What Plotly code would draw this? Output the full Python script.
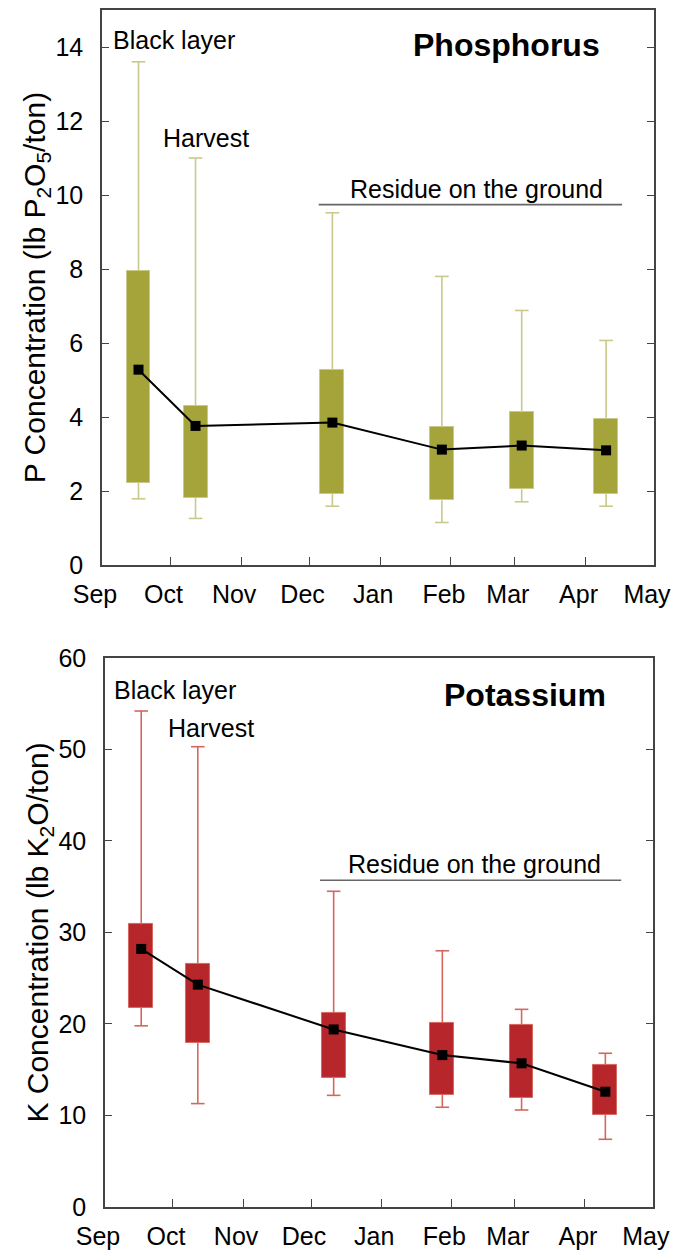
import pandas as pd
import plotly.graph_objects as go
from plotly.subplots import make_subplots

# ---- data ----
sample_dates = ["2014-09-17", "2014-10-12", "2014-12-11", "2015-01-28", "2015-03-04", "2015-04-10"]

p_min = [1.79, 1.26, 1.59, 1.15, 1.71, 1.59]
p_q1 = [2.23, 1.82, 1.93, 1.75, 2.05, 1.93]
p_mean = [5.28, 3.76, 3.85, 3.12, 3.23, 3.10]
p_q3 = [7.95, 4.31, 5.27, 3.73, 4.13, 3.96]
p_max = [13.6, 11.0, 9.52, 7.8, 6.88, 6.07]

k_min = [19.8, 11.3, 12.2, 10.9, 10.6, 7.4]
k_q1 = [21.8, 17.96, 14.1, 12.3, 11.9, 10.1]
k_mean = [28.2, 24.3, 19.4, 16.6, 15.7, 12.6]
k_q3 = [30.9, 26.6, 21.2, 20.1, 19.9, 15.5]
k_max = [54.2, 50.3, 34.5, 28.0, 21.6, 16.8]

month_ticks = ["2014-09-01", "2014-10-01", "2014-11-01", "2014-12-01", "2015-01-01",
               "2015-02-01", "2015-03-01", "2015-04-01", "2015-05-01"]
month_labels = ["Sep", "Oct", "Nov", "Dec", "Jan", "Feb", "Mar", "Apr", "May"]

residue_start = "2014-12-05"
residue_end = "2015-04-17"
residue_level_p = 9.74
residue_level_k = 35.7

FONT = "Liberation Sans, Arial, Helvetica, sans-serif"
FS = 25

dates = pd.to_datetime(sample_dates)
cap = pd.Timedelta(days=3)
box_w_ms = pd.Timedelta(days=10.5).total_seconds() * 1000

fig = make_subplots(rows=2, cols=1)


def add_panel(row, vmin, q1, mean, q3, vmax, box_col, whisk_col):
    wx, wy = [], []
    for d, lo, a, b, hi in zip(dates, vmin, q1, q3, vmax):
        wx += [d, d, None, d, d, None, d - cap, d + cap, None, d - cap, d + cap, None]
        wy += [b, hi, None, lo, a, None, hi, hi, None, lo, lo, None]
    fig.add_trace(go.Scatter(x=wx, y=wy, mode="lines", line=dict(color=whisk_col, width=1.6),
                             hoverinfo="skip", showlegend=False), row=row, col=1)
    fig.add_trace(go.Bar(x=dates, y=[b - a for a, b in zip(q1, q3)], base=q1,
                         width=[box_w_ms] * len(dates),
                         marker=dict(color=box_col, line=dict(color=whisk_col, width=1)),
                         showlegend=False), row=row, col=1)
    fig.add_trace(go.Scatter(x=dates, y=mean, mode="lines+markers",
                             line=dict(color="black", width=2),
                             marker=dict(symbol="square", size=10, color="black"),
                             showlegend=False), row=row, col=1)


add_panel(1, p_min, p_q1, p_mean, p_q3, p_max, "#a4a43a", "#c9c98c")
add_panel(2, k_min, k_q1, k_mean, k_q3, k_max, "#b7262b", "#d4685e")

axis_common = dict(showline=True, linecolor="#444444", linewidth=1.5, showgrid=False,
                   zeroline=False, ticks="inside", tickcolor="#444444", automargin=False,
                   tickfont=dict(family=FONT, size=FS, color="black"))

fig.update_xaxes(type="date", range=[month_ticks[0], month_ticks[-1]],
                 tickvals=month_ticks, ticktext=month_labels, ticklen=8,
                 ticklabelstandoff=6, ticklabelshift=-7,
                 mirror=True, **axis_common)
fig.update_xaxes(domain=[0.0, 1.0], row=1, col=1)
fig.update_xaxes(domain=[0.0054, 0.998], row=2, col=1)

title_font = dict(family=FONT, size=30, color="black")
fig.update_yaxes(range=[0, 15], dtick=2, tick0=0, ticklen=7, mirror="ticks",
                 ticklabelstandoff=12,
                 title=dict(text="P Concentration (lb P<sub>2</sub>O<sub>5</sub>/ton)",
                            font=title_font, standoff=0),
                 row=1, col=1, **axis_common)
fig.update_yaxes(range=[0, 60], dtick=10, tick0=0, ticklen=7, mirror="ticks",
                 ticklabelstandoff=12,
                 title=dict(text="K Concentration (lb K<sub>2</sub>O/ton)",
                            font=title_font, standoff=0),
                 row=2, col=1, **axis_common)

tf = dict(family=FONT, size=FS, color="black")
bold_f = dict(family=FONT, size=32, color="black")
ann = [
    dict(x="2014-09-05", y=14.2, xref="x", yref="y", text="Black layer", xanchor="left"),
    dict(x="2014-09-27", y=11.55, xref="x", yref="y", text="Harvest", xanchor="left"),
    dict(x="2015-02-12", y=10.15, xref="x", yref="y", text="Residue on the ground", xanchor="center"),
    dict(x="2015-04-08", y=14.05, xref="x", yref="y", text="<b>Phosphorus</b>", xanchor="right",
         font=bold_f),
    dict(x="2014-09-04", y=56.5, xref="x2", yref="y2", text="Black layer", xanchor="left"),
    dict(x="2014-09-28", y=52.3, xref="x2", yref="y2", text="Harvest", xanchor="left"),
    dict(x="2015-02-11", y=37.5, xref="x2", yref="y2", text="Residue on the ground", xanchor="center"),
    dict(x="2015-04-11", y=56.0, xref="x2", yref="y2", text="<b>Potassium</b>", xanchor="right",
         font=bold_f),
]
for a in ann:
    a.setdefault("font", tf)
    a["showarrow"] = False
    a["yanchor"] = "middle"
    fig.add_annotation(**a)

fig.add_shape(type="line", xref="x", yref="y", x0=residue_start, x1=residue_end,
              y0=residue_level_p, y1=residue_level_p, line=dict(color="#666666", width=1.6))
fig.add_shape(type="line", xref="x2", yref="y2", x0=residue_start, x1=residue_end,
              y0=residue_level_k, y1=residue_level_k, line=dict(color="#666666", width=1.6))

fig.update_layout(width=677, height=1251, margin=dict(l=102, r=23, t=10, b=44),
                  plot_bgcolor="white", paper_bgcolor="white", bargap=0,
                  font=dict(family=FONT, color="black"))
fig.update_yaxes(domain=[0.5363, 1.0], row=1, col=1)
fig.update_yaxes(domain=[0.0, 0.4587], row=2, col=1)

fig.write_html("out.html", config={"displayModeBar": False},
               post_script="document.body.style.margin='0';document.documentElement.style.overflow='hidden';")
